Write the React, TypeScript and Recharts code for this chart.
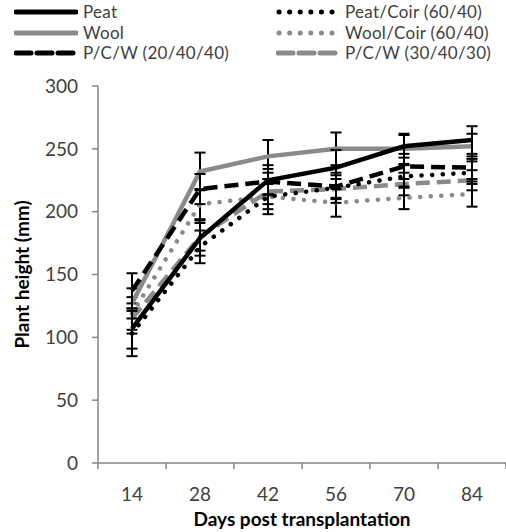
import { LineChart, Line, XAxis, YAxis, ErrorBar } from 'recharts';

const days = [14, 28, 42, 56, 70, 84];
const dayEdges = [7, 21, 35, 49, 63, 77, 91];
const heightTicks = [0, 50, 100, 150, 200, 250, 300];

const peat = [107, 179, 225, 235, 252, 257];
const peatErr = [16, 14, 12, 14, 9, 11];
const wool = [127, 232, 244, 250, 250, 252];
const woolErr = [12, 15, 13, 13, 12, 10];
const pcw20 = [137, 218, 224, 220, 236, 235];
const pcw20Err = [14, 12, 10, 9, 10, 9];
const peatCoir = [103, 172, 212, 219, 228, 231];
const peatCoirErr = [18, 13, 14, 12, 9, 9];
const woolCoir = [119, 206, 212, 207, 211, 214];
const woolCoirErr = [13, 12, 10, 11, 9, 10];
const pcw30 = [115, 180, 216, 218, 222, 225];
const pcw30Err = [12, 11, 10, 8, 9, 8];

const BLACK = '#000000';
const GREY = '#8a8a8a';
const AXIS = '#868686';
const TEXT = '#404040';
const FONT = 'Lato, "Open Sans", sans-serif';

const SOLID = undefined;
const DASH = '14 7';
const DOT = '0.1 10.5';

// drawn in this order, last on top
const series = [
  { key: 'pcw30', name: 'P/C/W (30/40/30)', values: pcw30, errors: pcw30Err, color: GREY, dash: DASH },
  { key: 'woolCoir', name: 'Wool/Coir (60/40)', values: woolCoir, errors: woolCoirErr, color: GREY, dash: DOT },
  { key: 'peatCoir', name: 'Peat/Coir (60/40)', values: peatCoir, errors: peatCoirErr, color: BLACK, dash: DOT },
  { key: 'wool', name: 'Wool', values: wool, errors: woolErr, color: GREY, dash: SOLID },
  { key: 'pcw20', name: 'P/C/W (20/40/40)', values: pcw20, errors: pcw20Err, color: BLACK, dash: DASH },
  { key: 'peat', name: 'Peat', values: peat, errors: peatErr, color: BLACK, dash: SOLID },
];

const legendLeft = ['peat', 'wool', 'pcw20'];
const legendRight = ['peatCoir', 'woolCoir', 'pcw30'];
const legendRows = [12, 32.5, 53];

const data = days.map((d, i) => {
  const row: Record<string, number> = { day: d };
  series.forEach((s) => {
    row[s.key] = s.values[i];
    row[s.key + 'Err'] = s.errors[i];
  });
  return row;
});

const DayTick = (props: any) => {
  const { x, y, payload } = props;
  if (days.includes(payload.value)) {
    return (
      <text x={x} y={y + 38} textAnchor="middle" fill={TEXT} fontSize={19} fontFamily={FONT}>
        {payload.value}
      </text>
    );
  }
  return <line x1={x} x2={x} y1={y} y2={y + 6} stroke={AXIS} strokeWidth={1.5} />;
};

function LegendItem({ k, left, top }: { k: string; left: number; top: number }) {
  const s = series.find((x) => x.key === k)!;
  return (
    <div
      style={{
        position: 'absolute',
        left,
        top: top - 9,
        height: 18,
        lineHeight: '18px',
        display: 'flex',
        alignItems: 'center',
        fontFamily: FONT,
        fontSize: 17,
        letterSpacing: 0.3,
        color: TEXT,
        whiteSpace: 'nowrap',
      }}
    >
      <svg width={64} height={10} style={{ display: 'block' }}>
        <line
          x1={s.dash === DOT ? 3 : 2}
          x2={62}
          y1={5}
          y2={5}
          stroke={s.color}
          strokeWidth={5}
          strokeDasharray={s.dash === DASH ? '15 6' : s.dash}
          strokeLinecap="round"
        />
      </svg>
      <span style={{ marginLeft: 5 }}>{s.name}</span>
    </div>
  );
}

export default function App() {
  return (
    <div style={{ position: 'relative', width: 506, height: 532, background: '#fff' }}>
      <style>{`body{margin:0}`}</style>
      <LineChart width={506} height={532} data={data} margin={{ top: 86, right: 0, bottom: 0, left: 0 }}>
        <XAxis
          dataKey="day"
          type="number"
          domain={[7, 91]}
          ticks={[...dayEdges, ...days].sort((a, b) => a - b)}
          interval={0}
          tick={<DayTick />}
          tickLine={false}
          tickSize={0}
          tickMargin={0}
          height={69}
          stroke={AXIS}
          strokeWidth={1.5}
          label={{
            value: 'Days post transplantation',
            position: 'insideBottom',
            offset: 6,
            style: { fontFamily: FONT, fontSize: 19, fontWeight: 700, fill: '#000' },
          }}
        />
        <YAxis
          type="number"
          domain={[0, 300]}
          ticks={heightTicks}
          interval={0}
          width={98}
          tickSize={6}
          tickMargin={14}
          stroke={AXIS}
          strokeWidth={1.5}
          tick={{ fill: TEXT, fontSize: 19, fontFamily: FONT }}
          label={{
            value: 'Plant height (mm)',
            angle: -90,
            position: 'insideLeft',
            offset: 22,
            style: { fontFamily: FONT, fontSize: 19, fontWeight: 700, fill: '#000', textAnchor: 'middle' },
          }}
        />
        {series.map((s) => (
          <Line
            key={s.key}
            dataKey={s.key}
            name={s.name}
            stroke={s.color}
            strokeWidth={4.5}
            strokeDasharray={s.dash}
            strokeLinecap={s.dash === DOT ? 'round' : 'butt'}
            dot={false}
            activeDot={false}
            isAnimationActive={false}
          >
            <ErrorBar dataKey={s.key + 'Err'} direction="y" width={5.5} stroke={BLACK} strokeWidth={2} isAnimationActive={false} />
          </Line>
        ))}
      </LineChart>
      {legendLeft.map((k, i) => (
        <LegendItem key={k} k={k} left={14} top={legendRows[i]} />
      ))}
      {legendRight.map((k, i) => (
        <LegendItem key={k} k={k} left={276} top={legendRows[i]} />
      ))}
    </div>
  );
}
